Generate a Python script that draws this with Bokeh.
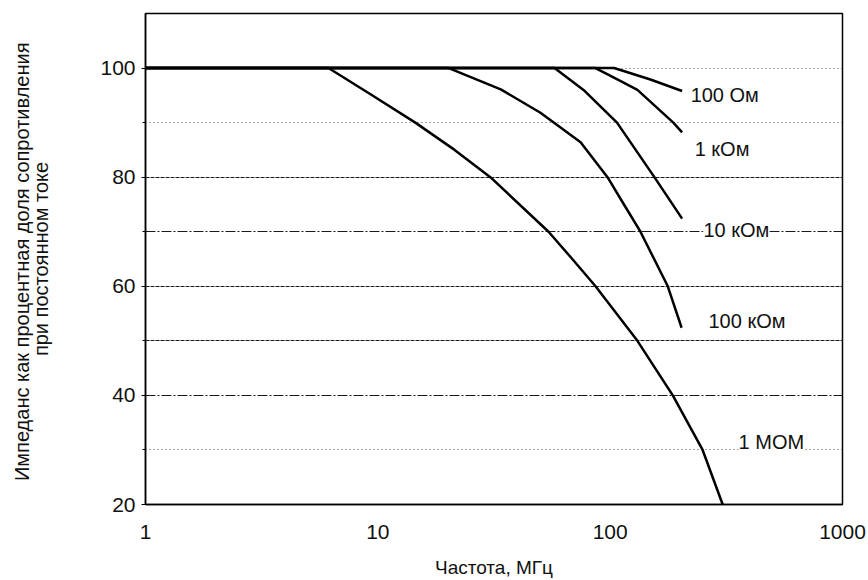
from bokeh.plotting import figure
from bokeh.models import FixedTicker, Grid, LabelSet, ColumnDataSource, BasicTickFormatter
from bokeh.core.properties import value
from bokeh.embed import file_html
from bokeh.resources import INLINE

# ---- data (frequency in MHz, impedance in % of DC resistance) ----
freq_100ohm = [1, 104, 149, 204]
imp_100ohm = [100, 100, 97.9, 95.8]

freq_1kohm = [1, 86.5, 111, 131, 187, 204]
imp_1kohm = [100, 100, 97.6, 96, 90, 88.2]

freq_10kohm = [1, 57.6, 76.8, 107, 155, 204]
imp_10kohm = [100, 100, 96, 90, 80, 72.4]

freq_100kohm = [1, 20.2, 33.8, 50.1, 74.6, 97.4, 115, 135, 177, 203]
imp_100kohm = [100, 100, 96.1, 91.8, 86.4, 80, 74.9, 70, 60, 52.4]

freq_1mohm = [1, 6.13, 9.3, 14.5, 21.4, 30.5, 54.3, 68.7, 86.5, 131, 186, 250, 305]
imp_1mohm = [100, 100, 95.2, 90, 85, 80, 70, 65, 60, 50, 40, 30, 20]

curve_labels = ["100 Ом", "1 кОм", "10 кОм", "100 кОм", "1 МОМ"]
label_freq = [222, 231, 252, 265, 357]
label_imp = [95.0, 85.2, 70.3, 53.6, 31.4]

x_ticks = [1, 10, 100, 1000]
y_ticks = [20, 40, 60, 80, 100]
y_minor = [30, 50, 70, 90]

FONT = "Liberation Sans"

p = figure(width=868, height=580, x_axis_type="log", x_range=(1, 1000), y_range=(20, 110),
           output_backend="svg", toolbar_location=None,
           min_border_left=145, min_border_right=26, min_border_top=13, min_border_bottom=74)

p.background_fill_color = "white"
p.border_fill_color = "white"
p.outline_line_color = "black"
p.outline_line_width = 1.5

p.xgrid.visible = False
p.ygrid.visible = False

grid_styles = [([90, 30, 100], "1 3", 0.7), ([80, 60, 50], "4 1", 0.9), ([70, 40], "10 2 2 2", 0.9)]
for ticks, dash, alpha in grid_styles:
    g = Grid(dimension=1, ticker=FixedTicker(ticks=ticks), grid_line_color="black",
             grid_line_width=1, grid_line_dash=dash, grid_line_alpha=alpha)
    p.add_layout(g)

for fx, iy in [(freq_100ohm, imp_100ohm), (freq_1kohm, imp_1kohm), (freq_10kohm, imp_10kohm),
               (freq_100kohm, imp_100kohm), (freq_1mohm, imp_1mohm)]:
    p.line(fx, iy, line_color="black", line_width=2.5, line_join="round")

src = ColumnDataSource(dict(x=label_freq, y=label_imp, t=curve_labels))
labels = LabelSet(x="x", y="y", text="t", source=src, text_align="left", text_baseline="middle",
                  text_font=value(FONT), text_font_size="20px", text_color="#111111",
                  background_fill_color="white", background_fill_alpha=1.0)
p.add_layout(labels)

# axes
p.xaxis.ticker = FixedTicker(ticks=x_ticks)
p.xaxis.formatter = BasicTickFormatter()
p.xaxis.major_tick_out = 0
p.xaxis.major_tick_in = 0
p.xaxis.minor_tick_out = 0
p.xaxis.minor_tick_in = 0
p.xaxis.major_label_standoff = 20
p.xaxis.axis_label = "Частота, МГц"
p.xaxis.axis_label_standoff = 15

p.yaxis.ticker = FixedTicker(ticks=y_ticks, minor_ticks=y_minor)
p.yaxis.major_tick_out = 4
p.yaxis.major_tick_in = 0
p.yaxis.minor_tick_out = 3
p.yaxis.minor_tick_in = 0
p.yaxis.major_label_standoff = 6
p.yaxis.axis_label = "Импеданс  как процентная доля сопротивления\nпри постоянном токе"
p.yaxis.axis_label_standoff = 45
p.yaxis.axis_label_text_line_height = 0.9

for ax in [p.xaxis[0], p.yaxis[0]]:
    ax.axis_line_color = "black"
    ax.axis_line_width = 1.5
    ax.major_tick_line_color = "black"
    ax.minor_tick_line_color = "black"
    ax.major_label_text_font = FONT
    ax.major_label_text_font_size = "21px"
    ax.major_label_text_color = "#111111"
    ax.axis_label_text_font = FONT
    ax.axis_label_text_font_style = "normal"
    ax.axis_label_text_color = "#111111"

p.xaxis.axis_label_text_font_size = "19px"
p.yaxis.axis_label_text_font_size = "20px"

open("out.html", "w").write(file_html(p, INLINE))
